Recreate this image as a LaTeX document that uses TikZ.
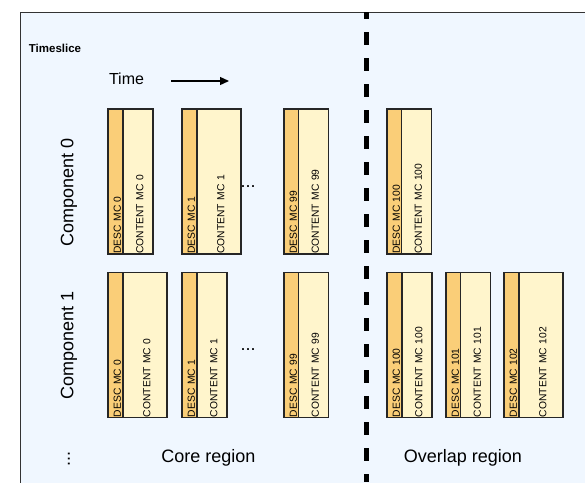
\documentclass[tikz,border=0pt]{standalone}
\usepackage{fontspec}
\setmainfont{Liberation Sans}
\usetikzlibrary{arrows.meta}
\definecolor{slicebg}{RGB}{240,247,255}
\definecolor{descfill}{RGB}{250,206,120}
\definecolor{contentfill}{RGB}{255,245,204}

\begin{document}
\begin{tikzpicture}[x=1pt,y=-1pt,>={Stealth[length=9pt,width=8pt,inset=0pt]},thick,
  desc node/.style={draw=black!85,line width=1.2pt,fill=descfill,rotate=90,minimum width=145pt,minimum height=15pt,inner sep=0pt,text width=144pt,align=left,text height=10.5pt,text depth=0pt,font=\fontsize{10.3}{11}\selectfont},
  content node/.style={desc node,fill=contentfill,minimum height=30pt},
  wide node/.style={content node,minimum height=44pt},
  big label/.style={font=\fontsize{18}{20}\selectfont},
  dots/.style={font=\fontsize{18}{20}\selectfont}]
  \useasboundingbox (0,0) rectangle (585,482);
  \clip (0,0) rectangle (585,482);
  \path[draw=black!80,fill=slicebg,line width=1pt] (20,12) rectangle (600,500);
  \draw[line width=5pt,dash pattern=on 13pt off 13pt,dash phase=6pt] (366,12) -- (366,482);

  \node[font=\bfseries\fontsize{11.5}{13}\selectfont] (slice) at (55,48) {Timeslice};
  \node[font=\fontsize{16}{18}\selectfont] (time) at (126.5,79) {Time};
  \coordinate (t0) at (171,81);
  \coordinate (t1) at (229,81);
  \draw[->,line width=1.3pt] (t0) -- (t1);

  \node[big label,rotate=90] (comp0) at (69,192) {Component 0};
  \node[big label,rotate=90] (comp1) at (69,345) {Component 1};
  \node[dots,rotate=90] (more) at (69,459) {...};

  \node[desc node] (d0) at (115.5,181.5) {DESC MC 0};
  \node[content node] (c0) at (138,181.5) {CONTENT MC 0};
  \node[desc node] (d1) at (189.5,181.5) {DESC MC 1};
  \node[wide node] (c1) at (219,181.5) {CONTENT MC 1};
  \node[dots] (gap0) at (248,187) {...};
  \node[desc node] (d99) at (291.5,181.5) {DESC MC 99};
  \node[content node] (c99) at (313.5,181.5) {CONTENT MC 99};
  \node[desc node] (d100) at (394.5,181.5) {DESC MC 100};
  \node[content node] (c100) at (416.5,181.5) {CONTENT MC 100};

  \node[desc node] (e0) at (115.5,345) {DESC MC 0};
  \node[wide node] (f0) at (145,345) {CONTENT MC 0};
  \node[desc node] (e1) at (189.5,345) {DESC MC 1};
  \node[content node] (f1) at (212,345) {CONTENT MC 1};
  \node[dots] (gap1) at (248,350) {...};
  \node[desc node] (e99) at (291.5,345) {DESC MC 99};
  \node[content node] (f99) at (313.5,345) {CONTENT MC 99};
  \node[desc node] (e100) at (394.5,345) {DESC MC 100};
  \node[content node] (f100) at (417,345) {CONTENT MC 100};
  \node[desc node] (e101) at (453.5,345) {DESC MC 101};
  \node[content node] (f101) at (475.5,345) {CONTENT MC 101};
  \node[desc node] (e102) at (511.5,345) {DESC MC 102};
  \node[wide node] (f102) at (541,345) {CONTENT MC 102};

  \node[big label] (core) at (208.5,458) {Core region};
  \node[big label] (overlap) at (463,458) {Overlap region};
\end{tikzpicture}
\end{document}
